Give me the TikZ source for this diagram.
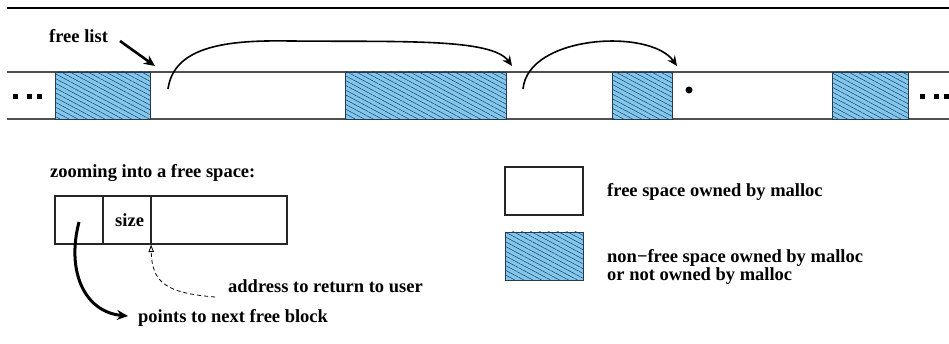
\documentclass[tikz,border=0pt]{standalone}
\usepackage{fontspec}
\setmainfont{Liberation Serif}
\usetikzlibrary{arrows.meta,patterns.meta}
\definecolor{hatchfill}{HTML}{82C7EE}
\definecolor{hatchline}{HTML}{22405E}
\definecolor{hatchedge}{HTML}{2A3A4A}
\definecolor{stripline}{HTML}{505050}
\tikzset{
  lbl/.style={font=\fontsize{18.5}{19}\selectfont\bfseries, inner sep=0pt, anchor=base west},
  hatchblk/.style={draw=hatchedge, line width=0.8pt, fill=hatchfill,
    postaction={pattern={Lines[angle=-28,distance=4.2pt,line width=0.5pt]}, pattern color=hatchline},
    inner sep=0pt, outer sep=0pt, anchor=north west, minimum height=47pt},
  freeblk/.style={draw=black!85, line width=1.1pt, fill=white, inner sep=0pt, outer sep=0pt,
    anchor=north west, minimum height=48pt},
  strip/.style={draw=stripline, line width=1.1pt},
  linkarrow/.style={line width=1.6pt, -{Stealth[length=10pt,width=9pt]}},
  fatarrow/.style={line width=3pt, -{Stealth[length=11pt,width=10pt]}},
  dotsq/.style={fill=black, inner sep=0pt, minimum size=5pt, draw=none},
}
\begin{document}
\begin{tikzpicture}[x=1pt,y=-1pt]
\useasboundingbox (0,0) rectangle (949,344);

% heavy rule at the top
\draw[line width=2pt] (7,8) -- (949,8);

% memory strip
\draw[strip] (7,72) -- (949,72);
\draw[strip] (7,119) -- (949,119);

\node[hatchblk, minimum width=95pt]  (b1) at (55,72)  {};
\node[hatchblk, minimum width=161pt] (b2) at (345,72) {};
\node[hatchblk, minimum width=60pt]  (b3) at (612,72) {};
\node[hatchblk, minimum width=76pt]  (b4) at (832,72) {};

% ellipses at both ends of the strip
\node[dotsq] (l1) at (15.5,96.5) {};
\node[dotsq] (l2) at (29.5,96.5) {};
\node[dotsq] (l3) at (39.5,96.5) {};
\node[dotsq] (r1) at (922.5,96.5) {};
\node[dotsq] (r2) at (936.5,96.5) {};
\node[dotsq] (r3) at (946.5,96.5) {};

% end of the free list
\node[circle, fill=black, inner sep=0pt, minimum size=7pt] (nil) at (689,90) {};

% free list pointers
\node[lbl] (fl) at (49,43) {free list};
\coordinate (flt) at (120,41);
\coordinate (f1) at (155,66);
\draw[line width=2.6pt, -{Stealth[length=11pt,width=10pt]}] (flt) -- (f1);

\coordinate (p1) at (168,89);
\coordinate (f2) at (512,66);
\draw[linkarrow] (p1) .. controls (174,45) and (230,40) .. (290,41)
  .. controls (400,42) and (492,38) .. (f2);

\coordinate (p2) at (523,89);
\coordinate (f3) at (677,66);
\draw[linkarrow] (p2) .. controls (528,35) and (650,28) .. (f3);

% close-up of one free block
\node[lbl] (zt) at (50,178) {zooming into a free space:};
\node[freeblk, minimum width=48pt]  (c1) at (55,196)  {};
\node[freeblk, minimum width=48pt]  (c2) at (103,196) {};
\node[freeblk, minimum width=136pt] (c3) at (151,196) {};
\node[lbl] (sz) at (115,227) {size};

\coordinate (nxt) at (79,222);
\node[lbl] (nt) at (138,322) {points to next free block};
\coordinate (nxe) at (128,316);
\draw[fatarrow] (nxt) .. controls (66,272) and (85,312) .. (nxe);

\node[lbl] (at) at (228,292) {address to return to user};
\draw[dashed, line width=0.8pt, dash pattern=on 4pt off 3pt,
  -{Latex[open,length=8pt,width=6pt]}]
  ([xshift=-13pt,yshift=-5pt]at.base west) .. controls (165,293) and (152,282) .. (c3.south west);

% legend
\node[freeblk, minimum width=78pt, minimum height=48pt] (kf) at (505,167) {};
\node[lbl] (kft) at (607,197) {free space owned by malloc};
\node[hatchblk, minimum width=78pt, minimum height=48pt] (kh) at (505,232) {};
\node[lbl, font=\fontsize{18.5}{14}\selectfont\bfseries, align=left, anchor=north west]
  (kht) at (607,249.5) {non−free space owned by malloc\\or not owned by malloc};
\end{tikzpicture}
\end{document}
